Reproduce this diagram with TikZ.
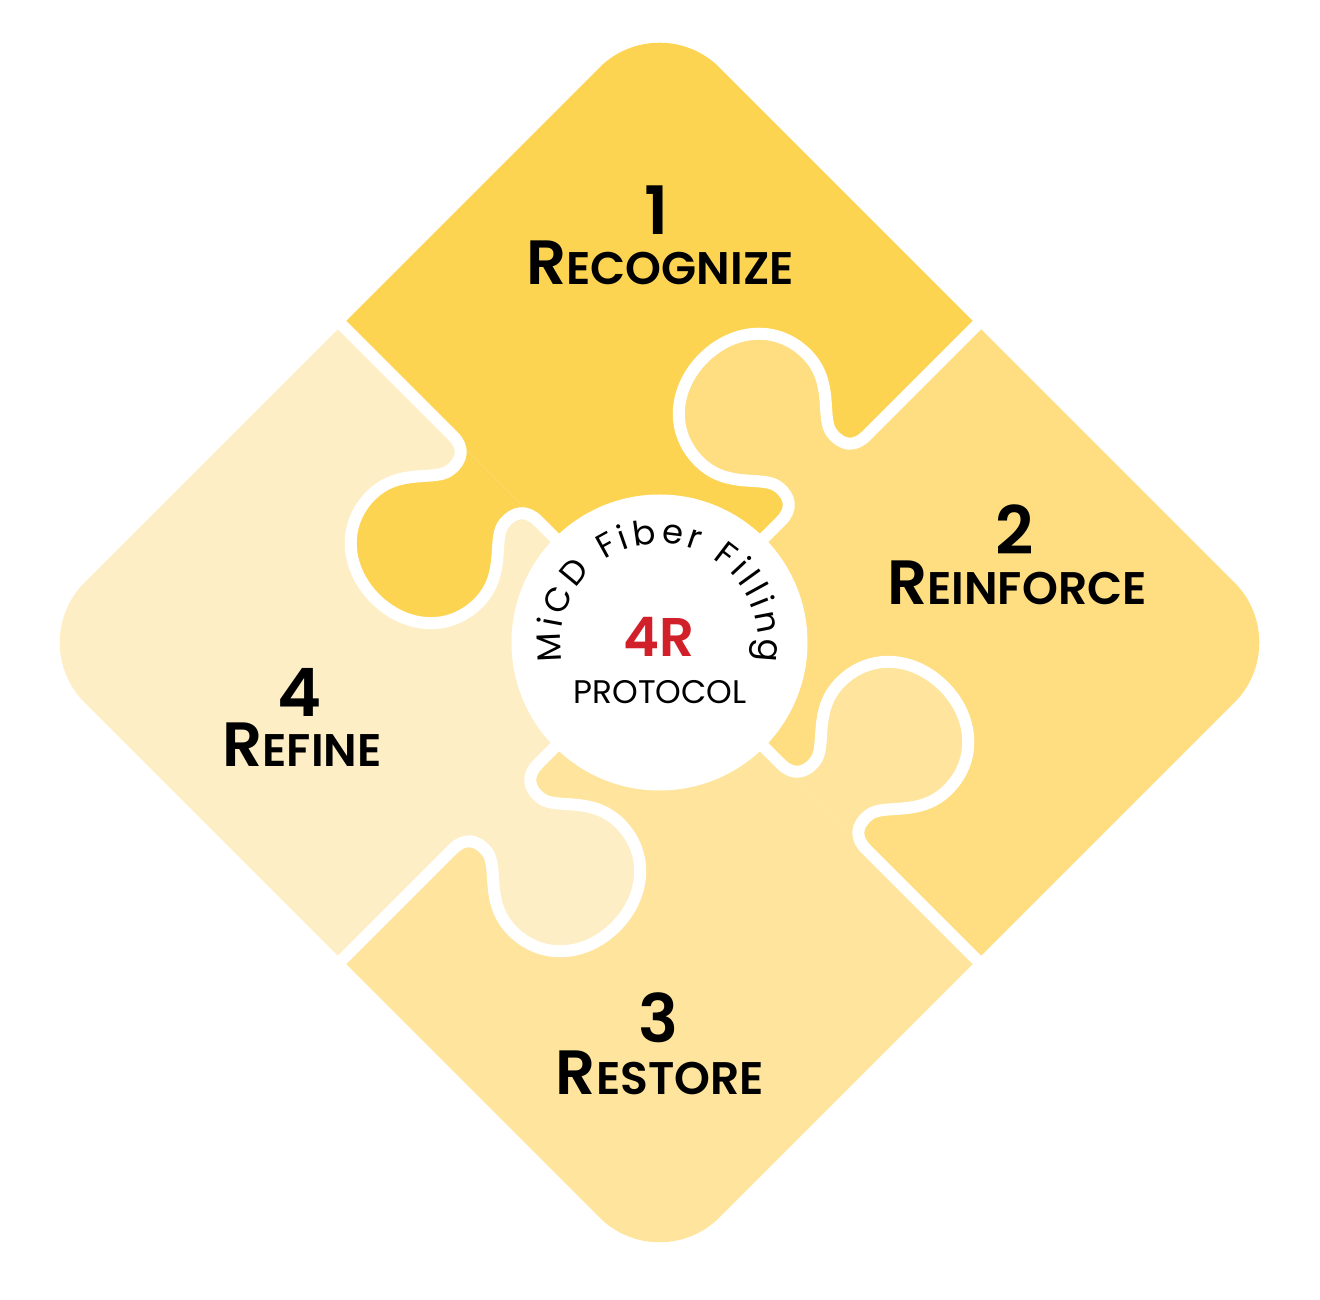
\documentclass[tikz,border=0pt]{standalone}
\usepackage{fontspec}
\setmainfont{Poppins}[BoldFont=* SemiBold]
\usetikzlibrary{decorations.text}

\definecolor{pieceA}{HTML}{FDD452}
\definecolor{pieceB}{HTML}{FEDE80}
\definecolor{pieceC}{HTML}{FEE49C}
\definecolor{pieceD}{HTML}{FEEEC6}
\definecolor{protored}{HTML}{D2202A}

% one tab of a cut, in the frame of its edge (s outward, n to the left)
\newcommand\tabshape{(292,0) .. controls (276,0) and (268,10) .. (270,26)
  .. controls (272,45) and (308,60) .. (308,100)
  .. controls (308,142) and (274,170) .. (232,170)
  .. controls (190,170) and (156,142) .. (156,100)
  .. controls (156,60) and (192,45) .. (194,26)
  .. controls (196,10) and (188,0) .. (172,0)}
\newcommand\capword[2]{{\fontsize{17.8}{18}\selectfont #1}{\fontsize{13}{13}\selectfont #2}}

\begin{document}
\begin{tikzpicture}[x=0.1mm, y=0.1mm]
\tikzset{ gap/.style={white, line width=1.2mm, line cap=round, line join=round},
  numlabel/.style={font=\bfseries\fontsize{19}{19}\selectfont, inner sep=0pt},
  stepname/.style={font=\bfseries, inner sep=0pt},
  hub/.style={circle, fill=white, minimum size=29.6mm, inner sep=0pt},
}

\useasboundingbox (0,0) rectangle (1320,1300);
\coordinate (C) at (659.5,657.5);

% the four quarters of the rounded square
\begin{scope}[shift={(C)}, rotate=45]
\clip[rounded corners=8.5mm] (-449,-449) rectangle (449,449);
\fill [pieceA] (0,0) rectangle (500,500);
\fill [pieceB] (0,0) rectangle (500,-500);
\fill [pieceC] (0,0) rectangle (-500,-500);
\fill [pieceD] (0,0) rectangle (-500,500);
\end{scope}

% tabs and cuts
\foreach \ang/\own in {45/pieceB, 135/pieceA, 225/pieceD, 315/pieceC}{
  \begin{scope}[shift={(C)}, rotate=\ang]
  \fill [\own] \tabshape -- cycle;
  \draw [gap] (480,0) -- \tabshape -- (120,0);
  \end{scope}
}

\node [hub] (hub) at (C) {};

\path [decorate, decoration={text along path, text align={fit to path},
  text={|\fontsize{9.6}{9.6}\selectfont|MiCD Fiber Filling}}]
  (C) ++(191:99) arc (191:-11:99);

\node [font=\bfseries\fontsize{15.5}{15.5}\selectfont, text=protored, inner sep=0pt] (fourR) at (659,663) {4R};
\node [font=\fontsize{9.3}{9.3}\selectfont, inner sep=0pt] (proto) at (660,608) {PROTOCOL};

\node [numlabel] (n1) at (657,1090) {1};
\node [stepname] (s1) at (660,1037) {\capword{R}{ECOGNIZE}};
\node [numlabel] (n2) at (1015,770) {2};
\node [stepname] (s2) at (1017,717) {\capword{R}{EINFORCE}};
\node [numlabel] (n3) at (658,282) {3};
\node [stepname] (s3) at (660,227) {\capword{R}{ESTORE}};
\node [numlabel] (n4) at (300,608) {4};
\node [stepname] (s4) at (302,555) {\capword{R}{EFINE}};

\end{tikzpicture}
\end{document}
